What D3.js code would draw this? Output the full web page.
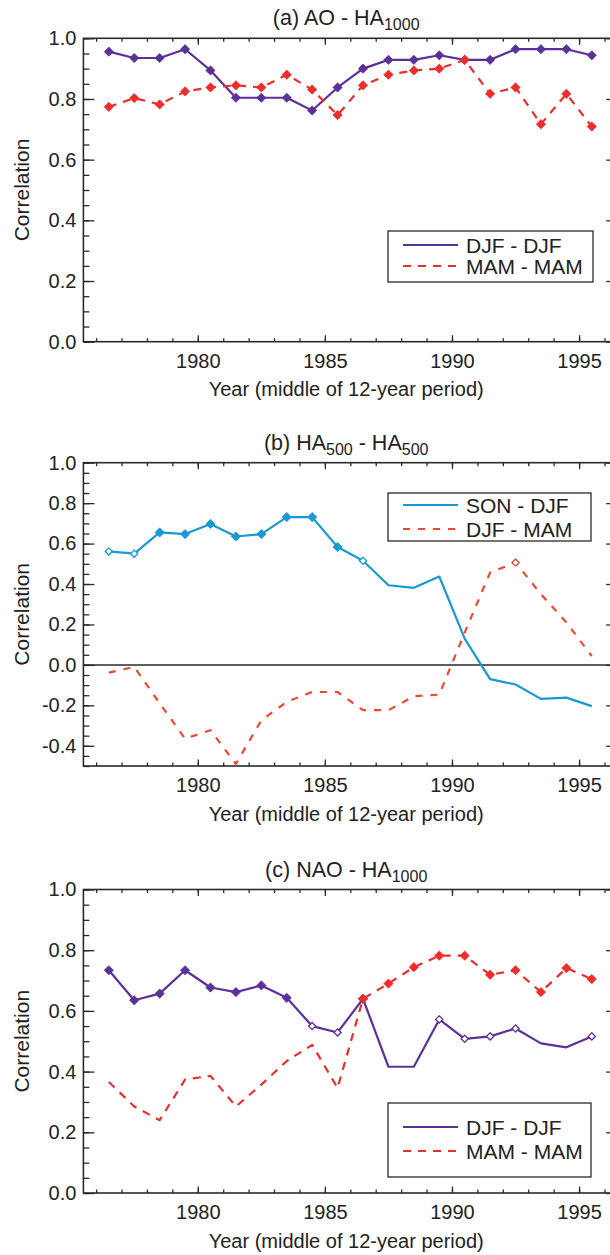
<!DOCTYPE html>
<html>
<head>
<meta charset="utf-8">
<script src="https://cdn.jsdelivr.net/npm/d3@7"></script>
<style>
  body { margin: 0; background: #fff; }
  svg { display: block; font-family: "Liberation Sans", Arial, Helvetica, sans-serif; }
  .tick text { fill: #222; }
</style>
</head>
<body>
<svg id="chart" width="610" height="1255"></svg>
<script>
// years = middle of 12-year window
const years = [1976.5, 1977.5, 1978.5, 1979.5, 1980.5, 1981.5, 1982.5, 1983.5, 1984.5, 1985.5,
  1986.5, 1987.5, 1988.5, 1989.5, 1990.5, 1991.5, 1992.5, 1993.5, 1994.5, 1995.5];

// (a) AO - HA1000
const aDJF = [0.956, 0.935, 0.935, 0.964, 0.894, 0.804, 0.804, 0.804, 0.762, 0.838,
  0.900, 0.929, 0.929, 0.944, 0.929, 0.929, 0.964, 0.964, 0.964, 0.944];
const aMAM = [0.774, 0.803, 0.782, 0.825, 0.838, 0.845, 0.838, 0.880, 0.831, 0.747,
  0.845, 0.880, 0.894, 0.900, 0.929, 0.817, 0.838, 0.717, 0.817, 0.709];
// marker flags: f = filled diamond, o = open diamond, "" = none
const aDJFSig = Array(20).fill("f");
const aMAMSig = Array(20).fill("f");

// (b) HA500 - HA500
const bSON = [0.561, 0.550, 0.655, 0.647, 0.697, 0.635, 0.647, 0.731, 0.731, 0.583,
  0.515, 0.394, 0.381, 0.437, 0.130, -0.070, -0.097, -0.168, -0.162, -0.204];
const bDJF = [-0.038, -0.010, -0.190, -0.365, -0.323, -0.490, -0.274, -0.183, -0.134, -0.134,
  -0.224, -0.224, -0.155, -0.147, 0.160, 0.457, 0.506, 0.350, 0.210, 0.043];
const bSONSig = ["o", "o", "f", "f", "f", "f", "f", "f", "f", "f",
  "o", "", "", "", "", "", "", "", "", ""];
const bDJFSig = ["", "", "", "", "", "", "", "", "", "",
  "", "", "", "", "", "", "o", "", "", ""];

// (c) NAO - HA1000
const cDJF = [0.734, 0.635, 0.657, 0.734, 0.677, 0.662, 0.684, 0.643, 0.550, 0.529,
  0.640, 0.416, 0.416, 0.572, 0.508, 0.516, 0.542, 0.493, 0.480, 0.516];
const cMAM = [0.366, 0.285, 0.240, 0.374, 0.386, 0.285, 0.357, 0.435, 0.488, 0.346,
  0.640, 0.690, 0.744, 0.782, 0.782, 0.719, 0.734, 0.662, 0.741, 0.705];
const cDJFSig = ["f", "f", "f", "f", "f", "f", "f", "f", "o", "o",
  "f", "", "", "o", "o", "o", "o", "", "", "o"];
const cMAMSig = ["", "", "", "", "", "", "", "", "", "",
  "f", "f", "f", "f", "f", "f", "f", "f", "f", "f"];

const xMajor = [1980, 1985, 1990, 1995];
const xMinor = d3.range(1976, 1997);

const purple = "#5b3199", red = "#ee2c2c", orange = "#ea4a30", blue = "#1a98d5";
const ink = "#2a2a2a";

const svg = d3.select("#chart");
const x = d3.scaleLinear().domain([1975.5, 1996.5]).range([83.4, 617.2]);

const panels = [
  { title: ["(a) AO - HA", "1000", "", ""], top: 38.3, bottom: 341.7, ymin: 0,
    series: [
      { name: "DJF - DJF", vals: aDJF, sig: aDJFSig, color: purple, dash: null },
      { name: "MAM - MAM", vals: aMAM, sig: aMAMSig, color: red, dash: "8,7" }],
    legend: { x0: 388, x1: 593, y0: 231, y1: 282, rows: [245, 266] } },
  { title: ["(b) HA", "500", " - HA", "500"], top: 462.7, bottom: 766, ymin: -0.5, zero: true,
    series: [
      { name: "SON - DJF", vals: bSON, sig: bSONSig, color: blue, dash: null },
      { name: "DJF - MAM", vals: bDJF, sig: bDJFSig, color: orange, dash: "7,8" }],
    legend: { x0: 388, x1: 591, y0: 493, y1: 541, rows: [505, 529] } },
  { title: ["(c) NAO - HA", "1000", "", ""], top: 889.5, bottom: 1193, ymin: 0,
    series: [
      { name: "DJF - DJF", vals: cDJF, sig: cDJFSig, color: purple, dash: null },
      { name: "MAM - MAM", vals: cMAM, sig: cMAMSig, color: red, dash: "8,7" }],
    legend: { x0: 388, x1: 591, y0: 1103, y1: 1177, rows: [1127, 1151] } }
];

function diamond(r) {
  return `M0,${-r}L${r},0L0,${r}L${-r},0Z`;
}

panels.forEach((p, i) => {
  const y = d3.scaleLinear().domain([p.ymin, 1]).range([p.bottom, p.top]);
  const yMajor = d3.range(p.ymin === 0 ? 0 : -0.4, 1.0001, 0.2).map(v => +v.toFixed(1));
  const yMinor = d3.range(p.ymin, 1.0001, 0.05).map(v => +v.toFixed(2));
  const g = svg.append("g");

  const clipId = "clip" + i;
  g.append("clipPath").attr("id", clipId)
    .append("rect")
    .attr("x", x.range()[0]).attr("y", p.top)
    .attr("width", x.range()[1] - x.range()[0]).attr("height", p.bottom - p.top);

  // ticks (inward)
  g.append("g").attr("transform", `translate(${x.range()[0]},0)`)
    .call(d3.axisLeft(y).tickValues(yMinor).tickSize(-6).tickSizeOuter(0).tickFormat(""));
  g.append("g").attr("transform", `translate(${x.range()[0]},0)`)
    .call(d3.axisLeft(y).tickValues(yMajor).tickSize(-11).tickSizeOuter(0).tickPadding(7)
      .tickFormat(v => v.toFixed(1)));
  g.append("g").attr("transform", `translate(${x.range()[1]},0)`)
    .call(d3.axisRight(y).tickValues(yMinor).tickSize(-6).tickSizeOuter(0).tickFormat(""));
  g.append("g").attr("transform", `translate(${x.range()[1]},0)`)
    .call(d3.axisRight(y).tickValues(yMajor).tickSize(-11).tickSizeOuter(0).tickFormat(""));
  g.append("g").attr("transform", `translate(0,${p.bottom})`)
    .call(d3.axisBottom(x).tickValues(xMinor).tickSize(-3.5).tickSizeOuter(0).tickFormat(""));
  g.append("g").attr("transform", `translate(0,${p.bottom})`)
    .call(d3.axisBottom(x).tickValues(xMajor).tickSize(-6.5).tickSizeOuter(0).tickPadding(12)
      .tickFormat(d3.format("d")));
  g.append("g").attr("transform", `translate(0,${p.top})`)
    .call(d3.axisTop(x).tickValues(xMinor).tickSize(-3.5).tickSizeOuter(0).tickFormat(""));
  g.append("g").attr("transform", `translate(0,${p.top})`)
    .call(d3.axisTop(x).tickValues(xMajor).tickSize(-6.5).tickSizeOuter(0).tickFormat(""));

  g.selectAll(".domain").remove();
  g.selectAll(".tick line").attr("stroke", ink).attr("stroke-width", 1.3);
  g.selectAll(".tick text").style("font-size", "20px").attr("fill", "#222");

  // frame
  g.append("rect")
    .attr("x", x.range()[0]).attr("y", p.top)
    .attr("width", x.range()[1] - x.range()[0]).attr("height", p.bottom - p.top)
    .attr("fill", "none").attr("stroke", ink).attr("stroke-width", 1.6);

  if (p.zero) {
    g.append("line")
      .attr("x1", x.range()[0]).attr("x2", x.range()[1])
      .attr("y1", y(0)).attr("y2", y(0))
      .attr("stroke", ink).attr("stroke-width", 1.5);
  }

  // series
  const plot = g.append("g").attr("clip-path", `url(#${clipId})`);
  p.series.forEach(s => {
    const pts = years.map((yr, k) => ({ yr, v: s.vals[k], m: s.sig[k] }));
    plot.append("path")
      .datum(pts)
      .attr("fill", "none")
      .attr("stroke", s.color)
      .attr("stroke-width", 2.2)
      .attr("stroke-dasharray", s.dash)
      .attr("stroke-linejoin", "round")
      .attr("d", d3.line().x(d => x(d.yr)).y(d => y(d.v)));

    plot.selectAll(null)
      .data(pts.filter(d => d.m !== ""))
      .enter()
      .append("path")
      .attr("transform", d => `translate(${x(d.yr)},${y(d.v)})`)
      .attr("d", d => d.m === "f" ? diamond(4.6) : diamond(3.6))
      .attr("fill", d => d.m === "f" ? s.color : "#fff")
      .attr("stroke", s.color)
      .attr("stroke-width", d => d.m === "f" ? 0.8 : 1.3);
  });

  // legend
  const L = p.legend;
  g.append("rect")
    .attr("x", L.x0).attr("y", L.y0)
    .attr("width", L.x1 - L.x0).attr("height", L.y1 - L.y0)
    .attr("fill", "#fff").attr("stroke", ink).attr("stroke-width", 1.3);
  p.series.forEach((s, k) => {
    g.append("line")
      .attr("x1", 403).attr("x2", 458)
      .attr("y1", L.rows[k]).attr("y2", L.rows[k])
      .attr("stroke", s.color).attr("stroke-width", 2)
      .attr("stroke-dasharray", s.dash);
    g.append("text")
      .attr("x", 466).attr("y", L.rows[k])
      .attr("dy", "0.36em")
      .style("font-size", "21px")
      .attr("fill", "#222")
      .text(s.name);
  });

  // title with subscripts
  const t = g.append("text")
    .attr("x", (83.4 + 609) / 2)
    .attr("y", p.top - 13)
    .attr("text-anchor", "middle")
    .style("font-size", "21.5px")
    .attr("fill", "#222");
  t.append("tspan").text(p.title[0]);
  t.append("tspan").attr("dy", 5).style("font-size", "16px").text(p.title[1]);
  if (p.title[2]) {
    t.append("tspan").attr("dy", -5).text(p.title[2]);
    t.append("tspan").attr("dy", 5).style("font-size", "16px").text(p.title[3]);
  }

  // axis titles
  g.append("text")
    .attr("x", (83.4 + 609) / 2)
    .attr("y", p.bottom + 54.5)
    .attr("text-anchor", "middle")
    .style("font-size", "20px")
    .attr("fill", "#222")
    .text("Year (middle of 12-year period)");

  g.append("text")
    .attr("transform", `translate(29,${(p.top + p.bottom) / 2}) rotate(-90)`)
    .attr("text-anchor", "middle")
    .style("font-size", "21px")
    .attr("fill", "#222")
    .text("Correlation");
});
</script>
</body>
</html>
